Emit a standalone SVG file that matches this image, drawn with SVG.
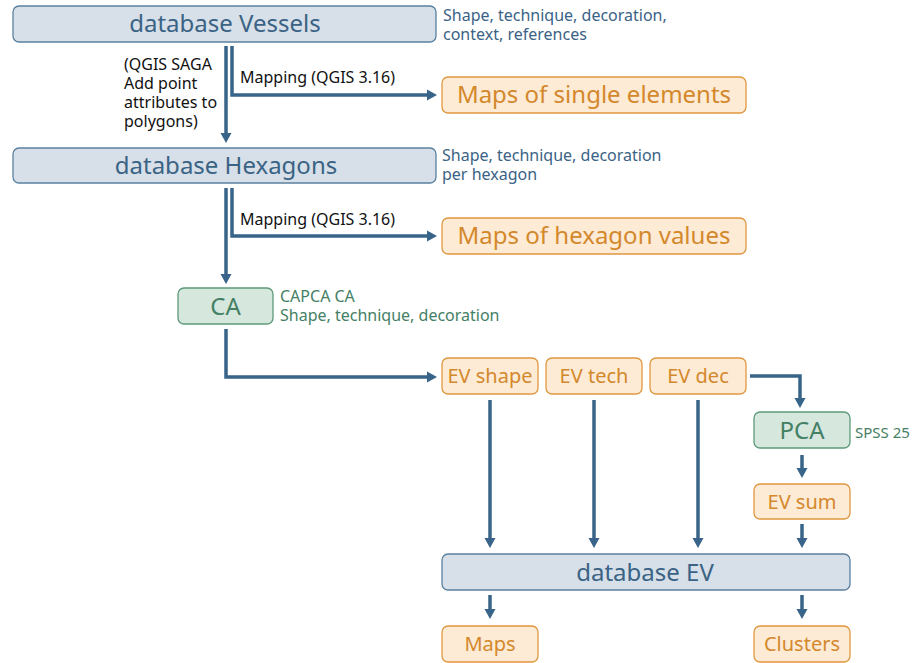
<svg xmlns="http://www.w3.org/2000/svg" width="920" height="663" viewBox="0 0 920 663">
<style>
text{font-family:"Noto Sans","Open Sans","DejaVu Sans",sans-serif}
.db rect{fill:#d7e0e8;stroke:#5b809f;stroke-width:1.3}
.db text{fill:#3a6385;font-size:24px;text-anchor:middle}
.out rect{fill:#fdebd5;stroke:#e0973f;stroke-width:1.3}
.out text{fill:#d4882c;text-anchor:middle}
.an rect{fill:#d6e7de;stroke:#5d9a78;stroke-width:1.3}
.an text{fill:#448064;font-size:24px;text-anchor:middle}
.db text.nb{fill:#3a6385;font-size:16px;text-anchor:start}
.an text.ng{fill:#448064;font-size:16px;text-anchor:start}
.lb{fill:#111;font-size:16px}
.c{fill:none;stroke:#386489;stroke-width:3.5}
</style>
<defs>
<marker id="ah" markerUnits="userSpaceOnUse" markerWidth="12" markerHeight="12" refX="3" refY="5.5" orient="auto" overflow="visible">
<path d="M0,0 L10,5.5 L0,11 z" fill="#386489"/>
</marker>
</defs>
<g id="connectors">
<path class="c" d="M226,46 V136" marker-end="url(#ah)"/>
<path class="c" d="M232,46 V95 H430" marker-end="url(#ah)"/>
<path class="c" d="M226,188 V277" marker-end="url(#ah)"/>
<path class="c" d="M232,188 V236 H430" marker-end="url(#ah)"/>
<path class="c" d="M226,329 V377 H430" marker-end="url(#ah)"/>
<path class="c" d="M750,376 H800 V401" marker-end="url(#ah)"/>
<path class="c" d="M802,455 V471" marker-end="url(#ah)"/>
<path class="c" d="M490,400 V541" marker-end="url(#ah)"/>
<path class="c" d="M594,400 V541" marker-end="url(#ah)"/>
<path class="c" d="M698,400 V541" marker-end="url(#ah)"/>
<path class="c" d="M802,524 V541" marker-end="url(#ah)"/>
<path class="c" d="M490,595 V612" marker-end="url(#ah)"/>
<path class="c" d="M802,595 V612" marker-end="url(#ah)"/>
</g>
<g id="labels">
<text class="lb" x="124" y="70">(QGIS SAGA<tspan x="124" dy="19">Add point</tspan><tspan x="124" dy="19">attributes to</tspan><tspan x="124" dy="19">polygons)</tspan></text>
<text class="lb" x="240" y="83">Mapping (QGIS 3.16)</text>
<text class="lb" x="240" y="225">Mapping (QGIS 3.16)</text>
</g>
<g id="vessels" class="db">
<rect x="13" y="6" width="423" height="36" rx="6"/>
<text x="225" y="32">database Vessels</text>
<text class="nb" x="443" y="21">Shape, technique, decoration,<tspan x="443" dy="19">context, references</tspan></text>
</g>
<g id="maps-single" class="out">
<rect x="442" y="77" width="304" height="36" rx="6"/>
<text x="594" y="103" font-size="24">Maps of single elements</text>
</g>
<g id="hexagons" class="db">
<rect x="13" y="148" width="423" height="35" rx="6"/>
<text x="226" y="174">database Hexagons</text>
<text class="nb" x="442" y="161">Shape, technique, decoration<tspan x="442" dy="19">per hexagon</tspan></text>
</g>
<g id="maps-hex" class="out">
<rect x="442" y="218" width="304" height="36" rx="6"/>
<text x="594" y="244" font-size="24">Maps of hexagon values</text>
</g>
<g id="ca" class="an">
<rect x="178" y="288" width="95" height="36" rx="6"/>
<text x="225.5" y="315">CA</text>
<text class="ng" x="280" y="302">CAPCA CA<tspan x="280" dy="19">Shape, technique, decoration</tspan></text>
</g>
<g id="ev-shape" class="out">
<rect x="442" y="358" width="96" height="36" rx="6"/>
<text x="490" y="383" font-size="20">EV shape</text>
</g>
<g id="ev-tech" class="out">
<rect x="546" y="358" width="96" height="36" rx="6"/>
<text x="594" y="383" font-size="20">EV tech</text>
</g>
<g id="ev-dec" class="out">
<rect x="650" y="358" width="96" height="36" rx="6"/>
<text x="698" y="383" font-size="20">EV dec</text>
</g>
<g id="pca" class="an">
<rect x="754" y="412" width="96" height="36" rx="6"/>
<text x="802" y="439">PCA</text>
<text class="ng" x="855" y="438" style="font-size:15px">SPSS 25</text>
</g>
<g id="ev-sum" class="out">
<rect x="754" y="484" width="96" height="35" rx="6"/>
<text x="802" y="509" font-size="20">EV sum</text>
</g>
<g id="database-ev" class="db">
<rect x="442" y="554" width="408" height="36" rx="6"/>
<text x="645" y="581">database EV</text>
</g>
<g id="maps" class="out">
<rect x="442" y="626" width="96" height="36" rx="6"/>
<text x="490" y="651" font-size="20">Maps</text>
</g>
<g id="clusters" class="out">
<rect x="754" y="626" width="96" height="36" rx="6"/>
<text x="802" y="651" font-size="20">Clusters</text>
</g>
</svg>
